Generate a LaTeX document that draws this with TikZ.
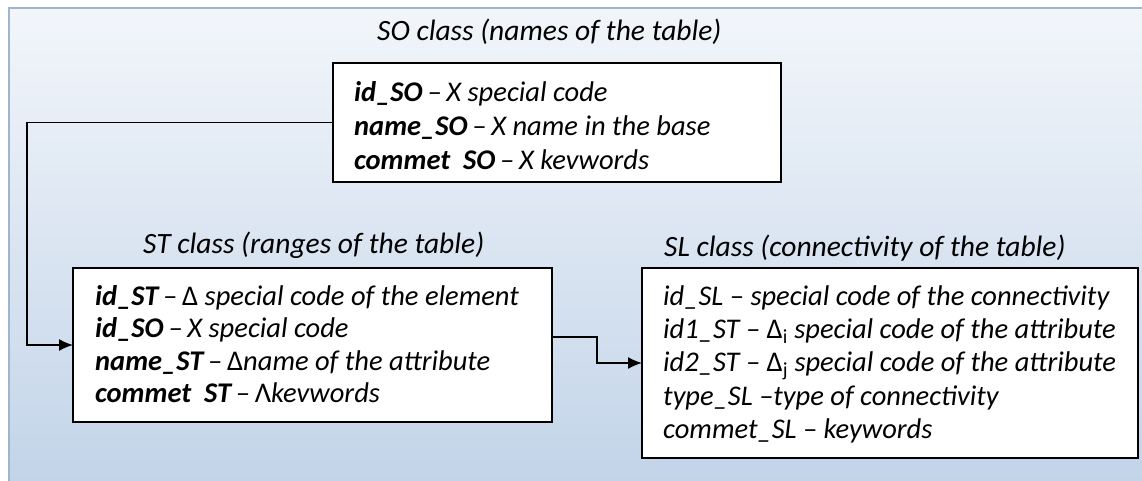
\documentclass[tikz,border=0pt]{standalone}
\usepackage{fontspec}
\setmainfont{Carlito}
\usetikzlibrary{arrows.meta}
\definecolor{bgblue}{RGB}{185,205,229}
\definecolor{panelborder}{RGB}{160,180,206}
\pgfdeclareverticalshading{panelshade}{100bp}{color(0bp)=(bgblue); color(18bp)=(bgblue); color(88bp)=(white); color(100bp)=(white)}
\begin{document}
\begin{tikzpicture}[x=1pt,y=-1pt,
  classbox/.style={draw=black, line width=1.7pt, fill=white, inner sep=0pt, outer sep=0pt, anchor=north west},
  field/.style={inner sep=0pt, anchor=base west, font=\fontsize{28.5}{34}\selectfont\itshape},
  classtitle/.style={inner sep=0pt, anchor=base west, font=\fontsize{29.5}{35}\selectfont\itshape},
  conn/.style={line width=1.5pt, -{Latex[length=14pt,width=12pt]}}]
\useasboundingbox (0,0) rectangle (1142,481);
\fill[white] (0,0) rectangle (1142,481);
\path[shading=panelshade, draw=panelborder, line width=2pt] (9,8) rectangle (1170,510);

% boxes
\node[classbox, minimum width=448pt, minimum height=119pt] (so) at (333,63) {};
\node[classbox, minimum width=479pt, minimum height=154pt] (st) at (73,268) {};
\node[classbox, minimum width=496pt, minimum height=190pt] (sl) at (642,268) {};

% titles
\node[classtitle] (sotitle) at (377,41) {SO class (names of the table)};
\node[classtitle] (sttitle) at (143,253) {ST class (ranges of the table)};
\node[classtitle] (sltitle) at (664,256) {SL class (connectivity of the table)};

% SO fields
\node[field] (so1) at (354,102) {\textbf{id\_SO}\,–\,X special code};
\node[field] (so2) at (354,136) {\textbf{name\_SO}\,–\,X name in the base};
\node[field] (so3) at (354,170) {\textbf{commet\ \ SO}\,–\,X kevwords};

% ST fields
\node[field] (st1) at (95,305) {\textbf{id\_ST}\,–\,{\upshape Δ} special code of the element};
\node[field] (st2) at (95,337) {\textbf{id\_SO}\,–\,X special code};
\node[field] (st3) at (95,370) {\textbf{name\_ST}\,–\,{\upshape Δ}name of the attribute};
\node[field] (st4) at (95,402) {\textbf{commet\ \ ST}\,–\,{\upshape Λ}kevwords};

% SL fields
\node[field] (sl1) at (663,305) {id\_SL – special code of the connectivity};
\node[field] (sl2) at (663,338) {id1\_ST – {\upshape Δ\textsubscript{i}} special code of the attribute};
\node[field] (sl3) at (663,371) {id2\_ST – {\upshape Δ\textsubscript{j}} special code of the attribute};
\node[field] (sl4) at (663,405) {type\_SL –type of connectivity};
\node[field] (sl5) at (663,438) {commet\_SL – keywords};

% connectors
\coordinate (bendx) at (27,0);
\draw[conn] (so.west) -- (so.west -| bendx) |- (st.west);
\draw[conn] ([yshift=8pt]st.east) -- ++(45,0) |- (sl.west);
\end{tikzpicture}
\end{document}
